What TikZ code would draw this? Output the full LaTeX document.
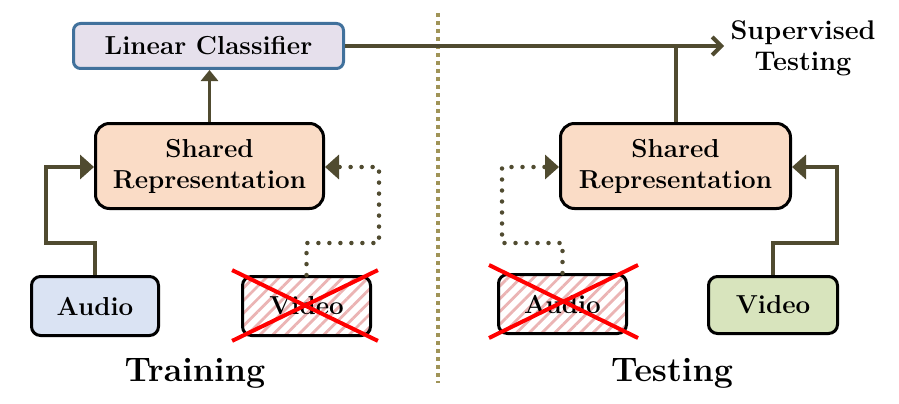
\documentclass[tikz,border=0pt]{standalone}
\usepackage{fontspec}
\usetikzlibrary{arrows.meta,calc,patterns.meta}
\definecolor{linecol}{RGB}{80,75,48}
\definecolor{lavfill}{HTML}{E6E0EC}
\definecolor{blueborder}{HTML}{41719C}
\definecolor{peach}{HTML}{FADCC6}
\definecolor{lightblue}{HTML}{DAE3F3}
\definecolor{lightgreen}{HTML}{D8E4BD}
\definecolor{hatchpink}{RGB}{235,180,180}
\definecolor{divcol}{RGB}{160,148,88}
\tikzset{
  boxfont/.style={font=\fontsize{26}{32}\selectfont\bfseries},
  box/.style={boxfont, draw=black, line width=3pt, rounded corners=9pt, inner sep=0pt, align=center},
  conn/.style={draw=linecol, line width=4pt},
  dotconn/.style={draw=linecol, line width=4.5pt, line cap=round, dash pattern=on 0pt off 11pt},
  tip/.style={-{Triangle[width=24pt,length=14pt]}},
  crossed/.style={box, pattern={Lines[angle=45,distance=9pt,line width=2.8pt]}, pattern color=hatchpink},
  redx/.style={draw=red, line width=4pt},
  biglabel/.style={font=\fontsize{34}{40}\selectfont\bfseries, inner sep=0pt},
}
\begin{document}
\begin{tikzpicture}[x=1pt,y=-1pt]
\useasboundingbox (0,0) rectangle (899,404);
% divider
\draw[divcol, line width=4pt, dash pattern=on 4pt off 4pt] (438,13) -- (438,383);
% nodes
\node[box, draw=blueborder, fill=lavfill, minimum width=270pt, minimum height=45pt, rounded corners=7pt] (lin) at (208.5,46) {Linear Classifier};
\node[box, fill=peach, minimum width=228pt, minimum height=85pt, rounded corners=14pt] (shA) at (209.5,166) {Shared\\[-1pt]Representation};
\node[box, fill=peach, minimum width=230pt, minimum height=85pt, rounded corners=14pt] (shB) at (675.5,166) {Shared\\[-1pt]Representation};
\node[box, fill=lightblue, minimum width=127pt, minimum height=59pt] (audA) at (95,306) {Audio};
\node[crossed, minimum width=128pt, minimum height=59pt] (vidA) at (306.5,306) {Video};
\node[crossed, minimum width=128pt, minimum height=59pt] (audB) at (562.5,304) {Audio};
\node[box, fill=lightgreen, minimum width=129pt, minimum height=57pt] (vidB) at (773,305) {Video};
\node[align=center, inner sep=0pt, font=\fontsize{27}{31}\selectfont\bfseries] (sup) at (803,48) {Supervised\\Testing};
\node[biglabel] (train) at (195,373) {Training};
\node[biglabel] (test) at (672,373) {Testing};
% red crosses
\draw[redx] ($(vidA.north west)+(-9,-5)$) -- ($(vidA.south east)+(6,4)$);
\draw[redx] ($(vidA.south west)+(-9,4)$) -- ($(vidA.north east)+(6,-5)$);
\draw[redx] ($(audB.north west)+(-8,-8)$) -- ($(audB.south east)+(10,3)$);
\draw[redx] ($(audB.south west)+(-8,3)$) -- ($(audB.north east)+(10,-8)$);
% coordinates for bends
\coordinate (a1) at (46,243);
\coordinate (a2) at (46,167);
\coordinate (v1) at (379,243);
\coordinate (v2) at (379,167);
\coordinate (b1) at (502,243);
\coordinate (b2) at (502,167);
\coordinate (w1) at (837,243);
\coordinate (w2) at (837,167);
\coordinate (suptip) at (724,46);
% connectors
\draw[conn, line width=3.5pt, -{Triangle[width=17pt,length=11pt]}] (shA.north) -- (shA.north |- lin.south);
\draw[conn, tip] (audA.north) |- (a1) -- (a2) -- (shA.west |- a2);
\draw[dotconn, tip] (vidA.north) |- (v1) -- (v2) -- (shA.east |- v2);
\draw[dotconn, tip] (audB.north) |- (b1) -- (b2) -- (shB.west |- b2);
\draw[conn, tip] (vidB.north) |- (w1) -- (w2) -- (shB.east |- w2);
\draw[conn] (shB.north) -- (shB.north |- lin.east);
\draw[conn, -{Straight Barb[width=18pt,length=9pt]}] (lin.east) -- (suptip);
\end{tikzpicture}
\end{document}
